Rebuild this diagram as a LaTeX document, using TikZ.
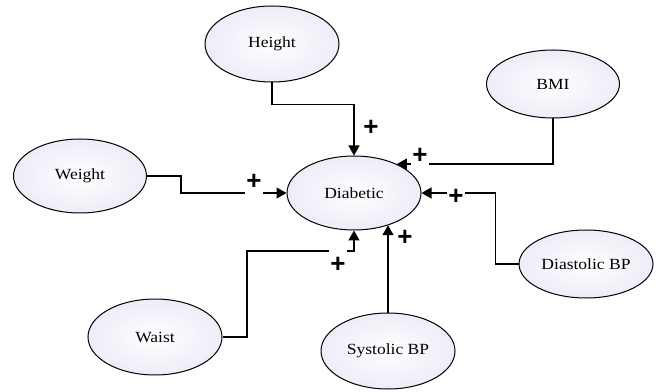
\documentclass[tikz,border=0pt]{standalone}
\usepackage{fontspec}
\setmainfont{Liberation Serif}
\newfontfamily\lblfont[FakeStretch=1.13]{Liberation Serif}
\newfontfamily\plusfont{Liberation Sans}
\usetikzlibrary{shapes.geometric,arrows.meta}
\begin{document}
\begin{tikzpicture}[x=1pt,y=1pt,
  var/.style={ellipse,draw=black,line width=1pt,inner sep=0pt,
    inner color=white,outer color={rgb,255:red,236;green,237;blue,247},
    font=\lblfont\fontsize{15.5}{17}\selectfont},
  conn/.style={line width=1.3pt,-{Triangle[length=10pt,width=11pt]}},
  pl/.style={font=\plusfont\bfseries\fontsize{26}{26}\selectfont,inner sep=1pt}]
\useasboundingbox (0,0) rectangle (658,391);
\node[var,minimum width=134pt,minimum height=74pt] (D) at (354,198) {Diabetic};
\node[var,minimum width=134pt,minimum height=76pt] (H) at (272,347) {Height};
\node[var,minimum width=133pt,minimum height=68pt] (B) at (553,307) {BMI};
\node[var,minimum width=133pt,minimum height=74pt] (W) at (80,215) {Weight};
\node[var,minimum width=134pt,minimum height=76pt] (Wa) at (155,54) {Waist};
\node[var,minimum width=134pt,minimum height=76pt] (S) at (388,40) {Systolic BP};
\node[var,minimum width=134pt,minimum height=68pt] (Di) at (586,127) {Diastolic BP};
% connectors
\draw[conn] (H.south) -- ++(0,-22) -| (D.north);
\draw[conn] (B.south) |- (D.34);
\draw[conn] (Di.west) -- ++(-23,0) |- (D.east);
\draw[conn] (W.east) -- ++(34,0) |- (D.west);
\coordinate (wk) at (247,140);
\draw[conn] (Wa.east) -| (wk) -| (D.south);
\draw[conn] (S.north) -- (S.north |- D.-43.3);
% signs
\node[pl] (p1) at (371,263) {+};
\node[pl,fill=white] (p2) at (420,235) {+};
\node[pl,fill=white] (p3) at (456,194) {+};
\node[pl,fill=white,text depth=4pt] (p4) at (254,207) {+};
\node[pl,fill=white,anchor=base,text height=24pt] (p5) at (338,118) {+};
\node[pl] (p6) at (405,153) {+};
\end{tikzpicture}
\end{document}
